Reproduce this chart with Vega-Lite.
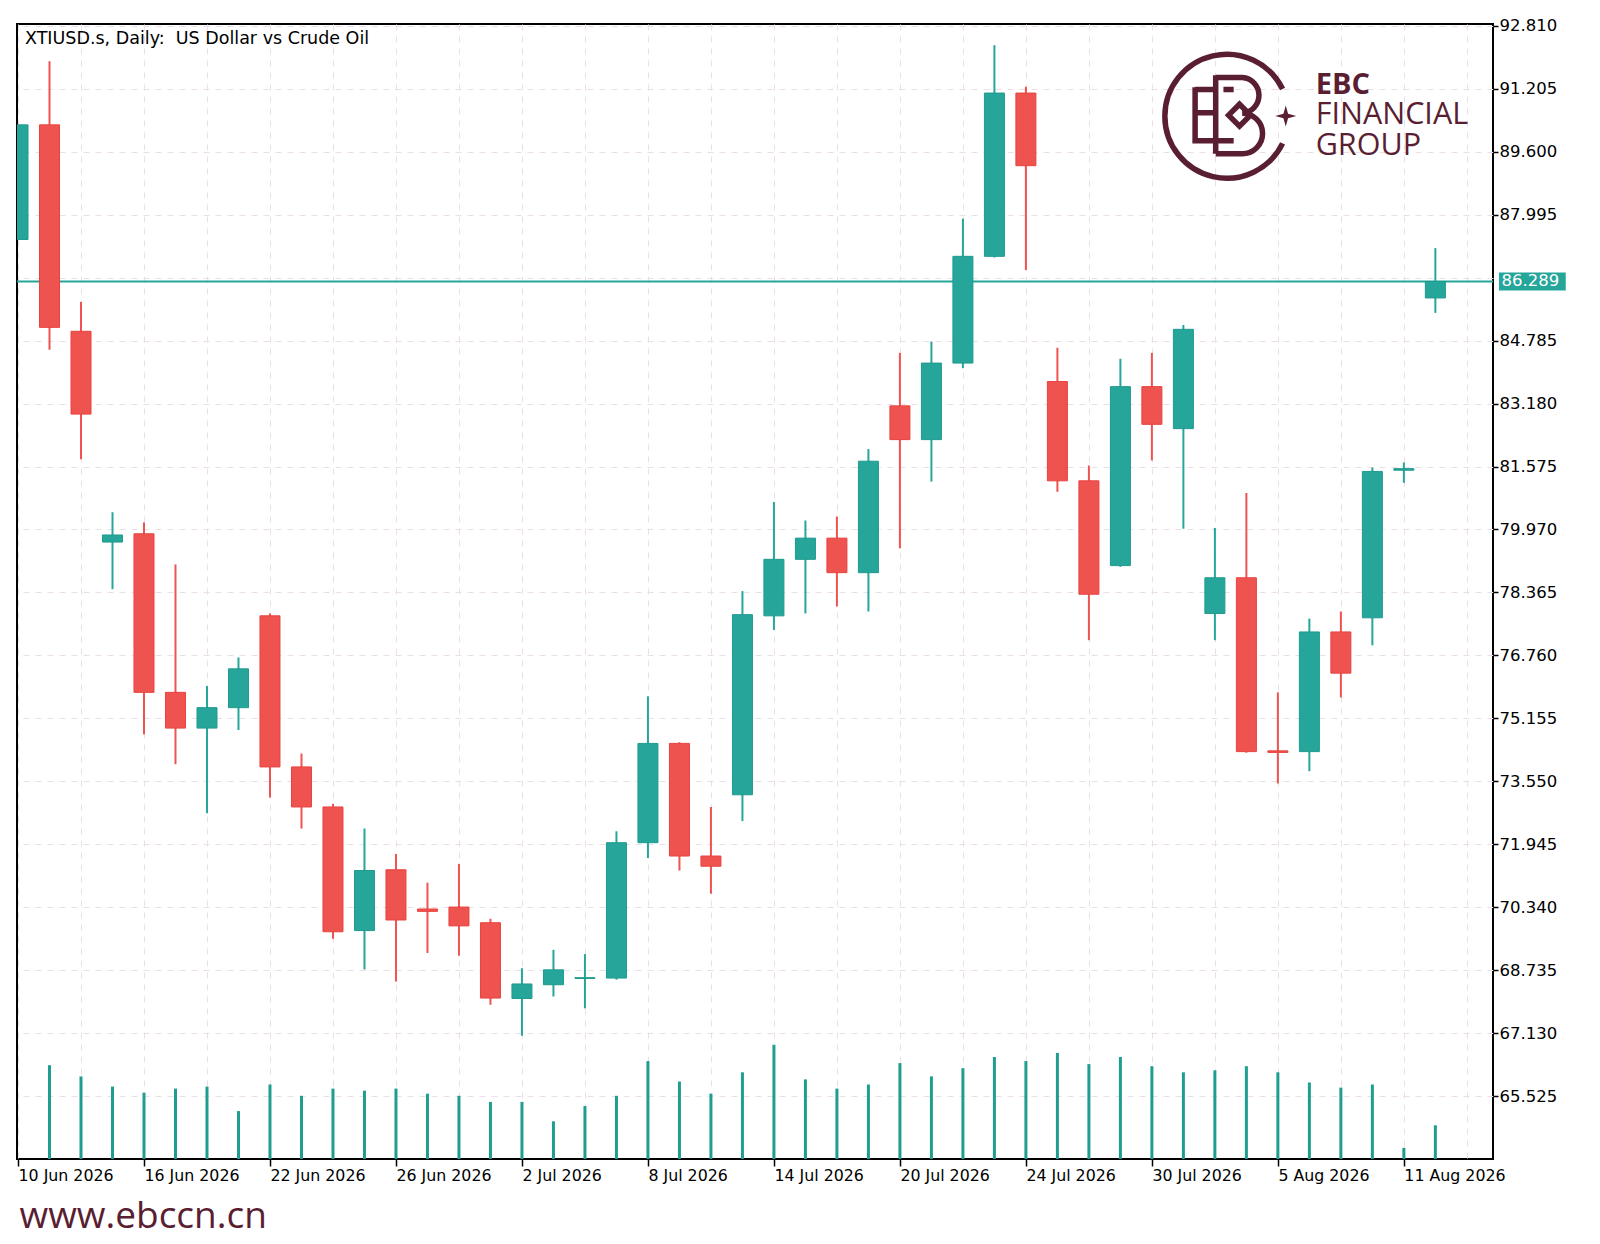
{
  "$schema": "https://vega.github.io/schema/vega-lite/v6.json",
  "width": 1476,
  "height": 1135,
  "autosize": {"type": "none"},
  "padding": {"left": 17, "top": 24, "right": 107, "bottom": 85},
  "background": "white",
  "title": {
    "text": "XTIUSD.s, Daily:\u00a0 US Dollar vs Crude Oil",
    "anchor": "start",
    "frame": "group",
    "orient": "top",
    "baseline": "top",
    "offset": -30,
    "dx": 8,
    "font": "DejaVu Sans",
    "fontSize": 17.5,
    "fontWeight": "normal",
    "color": "black"
  },
  "config": {"view": {"stroke": "black", "strokeWidth": 2}},
  "data": {
    "values": [
      {"i": 0, "d": "2026-06-10", "o": 87.36, "h": 90.28, "l": 87.36, "c": 90.28, "v": null},
      {"i": 1, "d": "2026-06-11", "o": 90.28, "h": 91.90, "l": 84.55, "c": 85.12, "v": 9380},
      {"i": 2, "d": "2026-06-12", "o": 85.02, "h": 85.77, "l": 81.76, "c": 82.91, "v": 8260},
      {"i": 3, "d": "2026-06-15", "o": 79.65, "h": 80.41, "l": 78.45, "c": 79.83, "v": 7240},
      {"i": 4, "d": "2026-06-16", "o": 79.86, "h": 80.15, "l": 74.75, "c": 75.82, "v": 6630},
      {"i": 5, "d": "2026-06-17", "o": 75.82, "h": 79.08, "l": 73.99, "c": 74.91, "v": 7040},
      {"i": 6, "d": "2026-06-18", "o": 74.91, "h": 75.98, "l": 72.74, "c": 75.43, "v": 7240},
      {"i": 7, "d": "2026-06-19", "o": 75.43, "h": 76.71, "l": 74.86, "c": 76.42, "v": 4790},
      {"i": 8, "d": "2026-06-22", "o": 77.77, "h": 77.83, "l": 73.14, "c": 73.92, "v": 7450},
      {"i": 9, "d": "2026-06-23", "o": 73.92, "h": 74.26, "l": 72.35, "c": 72.90, "v": 6320},
      {"i": 10, "d": "2026-06-24", "o": 72.90, "h": 72.98, "l": 69.54, "c": 69.72, "v": 7040},
      {"i": 11, "d": "2026-06-25", "o": 69.75, "h": 72.35, "l": 68.76, "c": 71.28, "v": 6830},
      {"i": 12, "d": "2026-06-26", "o": 71.30, "h": 71.70, "l": 68.45, "c": 70.02, "v": 7040},
      {"i": 13, "d": "2026-06-29", "o": 70.30, "h": 70.97, "l": 69.18, "c": 70.24, "v": 6530},
      {"i": 14, "d": "2026-06-30", "o": 70.35, "h": 71.45, "l": 69.11, "c": 69.87, "v": 6320},
      {"i": 15, "d": "2026-07-01", "o": 69.95, "h": 70.05, "l": 67.86, "c": 68.03, "v": 5710},
      {"i": 16, "d": "2026-07-02", "o": 68.02, "h": 68.79, "l": 67.07, "c": 68.39, "v": 5710},
      {"i": 17, "d": "2026-07-03", "o": 68.37, "h": 69.26, "l": 68.07, "c": 68.75, "v": 3770},
      {"i": 18, "d": "2026-07-06", "o": 68.53, "h": 69.15, "l": 67.77, "c": 68.55, "v": 5300},
      {"i": 19, "d": "2026-07-07", "o": 68.54, "h": 72.28, "l": 68.50, "c": 71.99, "v": 6320},
      {"i": 20, "d": "2026-07-08", "o": 71.99, "h": 75.72, "l": 71.60, "c": 74.52, "v": 9790},
      {"i": 21, "d": "2026-07-09", "o": 74.52, "h": 74.55, "l": 71.28, "c": 71.65, "v": 7750},
      {"i": 22, "d": "2026-07-10", "o": 71.65, "h": 72.90, "l": 70.69, "c": 71.39, "v": 6530},
      {"i": 23, "d": "2026-07-13", "o": 73.21, "h": 78.40, "l": 72.54, "c": 77.80, "v": 8670},
      {"i": 24, "d": "2026-07-14", "o": 77.77, "h": 80.67, "l": 77.41, "c": 79.21, "v": 11420},
      {"i": 25, "d": "2026-07-15", "o": 79.21, "h": 80.20, "l": 77.83, "c": 79.75, "v": 7960},
      {"i": 26, "d": "2026-07-16", "o": 79.75, "h": 80.30, "l": 78.01, "c": 78.87, "v": 7040},
      {"i": 27, "d": "2026-07-17", "o": 78.87, "h": 82.02, "l": 77.88, "c": 81.71, "v": 7450},
      {"i": 28, "d": "2026-07-20", "o": 83.12, "h": 84.47, "l": 79.49, "c": 82.26, "v": 9590},
      {"i": 29, "d": "2026-07-21", "o": 82.26, "h": 84.76, "l": 81.19, "c": 84.21, "v": 8260},
      {"i": 30, "d": "2026-07-22", "o": 84.21, "h": 87.89, "l": 84.08, "c": 86.93, "v": 9080},
      {"i": 31, "d": "2026-07-23", "o": 86.93, "h": 92.31, "l": 86.90, "c": 91.09, "v": 10200},
      {"i": 32, "d": "2026-07-24", "o": 91.09, "h": 91.25, "l": 86.58, "c": 89.24, "v": 9790},
      {"i": 33, "d": "2026-07-27", "o": 83.74, "h": 84.60, "l": 80.93, "c": 81.21, "v": 10610},
      {"i": 34, "d": "2026-07-28", "o": 81.21, "h": 81.60, "l": 77.15, "c": 78.32, "v": 9490},
      {"i": 35, "d": "2026-07-29", "o": 79.05, "h": 84.32, "l": 79.02, "c": 83.61, "v": 10200},
      {"i": 36, "d": "2026-07-30", "o": 83.61, "h": 84.47, "l": 81.73, "c": 82.65, "v": 9280},
      {"i": 37, "d": "2026-07-31", "o": 82.54, "h": 85.18, "l": 79.99, "c": 85.07, "v": 8670},
      {"i": 38, "d": "2026-08-03", "o": 77.83, "h": 80.01, "l": 77.15, "c": 78.74, "v": 8870},
      {"i": 39, "d": "2026-08-04", "o": 78.74, "h": 80.90, "l": 74.28, "c": 74.31, "v": 9280},
      {"i": 40, "d": "2026-08-05", "o": 74.33, "h": 75.82, "l": 73.50, "c": 74.29, "v": 8670},
      {"i": 41, "d": "2026-08-06", "o": 74.31, "h": 77.70, "l": 73.81, "c": 77.36, "v": 7650},
      {"i": 42, "d": "2026-08-07", "o": 77.36, "h": 77.88, "l": 75.69, "c": 76.31, "v": 7140},
      {"i": 43, "d": "2026-08-10", "o": 77.72, "h": 81.55, "l": 77.02, "c": 81.45, "v": 7450},
      {"i": 44, "d": "2026-08-11", "o": 81.48, "h": 81.68, "l": 81.16, "c": 81.52, "v": 1120},
      {"i": 45, "d": "2026-08-12", "o": 85.87, "h": 87.14, "l": 85.49, "c": 86.289, "v": 3370}
    ]
  },
  "layer": [
    {
      "layer": [
        {
          "data": {"values": [{}]},
          "mark": {"type": "rule", "color": "#26a69a", "strokeWidth": 2},
          "encoding": {
            "y": {"datum": 86.289, "type": "quantitative"}
          }
        },
        {
          "mark": {"type": "rule", "strokeWidth": 2, "clip": true},
          "encoding": {
            "x": {
              "field": "i",
              "type": "quantitative",
              "title": "www.ebccn.cn",
              "scale": {"domain": [-0.032, 46.83], "nice": false, "zero": false, "padding": 0},
              "axis": {
                "values": [0, 2, 4, 6, 8, 10, 12, 14, 16, 18, 20, 22, 24, 26, 28, 30, 32, 34, 36, 38, 40, 42, 44, 46],
                "labelExpr": "datum.value % 4 === 0 ? ['10 Jun 2026','16 Jun 2026','22 Jun 2026','26 Jun 2026','2 Jul 2026','8 Jul 2026','14 Jul 2026','20 Jul 2026','24 Jul 2026','30 Jul 2026','5 Aug 2026','11 Aug 2026'][datum.value / 4] : ''",
                "title": "www.ebccn.cn",
                "titleFont": "Open Sans",
                "titleFontSize": 37,
                "titleFontWeight": "normal",
                "titleColor": "#5a1e32",
                "titleAnchor": "start",
                "titleAlign": "left",
                "titleBaseline": "alphabetic",
                "titleX": 2,
                "titleY": 68,
                "domain": false,
                "tickSize": 7,
                "tickWidth": 1.5,
                "tickColor": "black",
                "tickOpacity": {"condition": {"test": "datum.value % 4 === 0", "value": 1}, "value": 0},
                "labelFont": "DejaVu Sans",
                "labelFontSize": 15.8,
                "labelColor": "black",
                "labelAlign": "left",
                "labelPadding": 2,
                "labelFlush": false,
                "labelOverlap": false,
                "labelBound": false,
                "grid": true,
                "gridColor": "#eadfe8",
                "gridDash": [6, 6],
                "gridWidth": 1
              }
            },
            "y": {
              "field": "l",
              "type": "quantitative",
              "title": null,
              "scale": {"domain": [63.93, 92.85], "nice": false, "zero": false},
              "axis": {
                "orient": "right",
                "title": null,
                "values": [65.525, 67.13, 68.735, 70.34, 71.945, 73.55, 75.155, 76.76, 78.365, 79.97, 81.575, 83.18, 84.785, 86.39, 87.995, 89.6, 91.205, 92.81],
                "labelExpr": "abs(datum.value - 86.39) < 0.001 ? '' : format(datum.value, '.3f')",
                "domain": false,
                "tickSize": 5,
                "tickWidth": 1.5,
                "tickColor": "black",
                "tickOpacity": {"condition": {"test": "abs(datum.value - 86.39) < 0.001", "value": 0}, "value": 1},
                "labelFont": "DejaVu Sans",
                "labelFontSize": 16.5,
                "labelColor": "black",
                "labelPadding": 1,
                "labelOverlap": false,
                "labelFlush": false,
                "labelBound": false,
                "grid": true,
                "gridColor": "#eadfe8",
                "gridDash": [6, 6],
                "gridWidth": 1
              }
            },
            "y2": {"field": "h"},
            "color": {"condition": {"test": "datum.c >= datum.o", "value": "#26a69a"}, "value": "#ef5350"}
          }
        },
        {
          "mark": {"type": "bar", "size": 20, "strokeWidth": 1, "clip": true},
          "encoding": {
            "x": {"field": "i", "type": "quantitative", "title": "www.ebccn.cn"},
            "y": {"field": "o", "type": "quantitative", "title": null},
            "y2": {"field": "c"},
            "fill": {"condition": {"test": "datum.c >= datum.o", "value": "#26a69a"}, "value": "#ef5350"},
            "stroke": {"condition": {"test": "datum.c >= datum.o", "value": "#1f9a8e"}, "value": "#e8423f"}
          }
        },
        {
          "data": {"values": [{}]},
          "mark": {"type": "rect", "color": "#26a69a"},
          "encoding": {
            "x": {"datum": 47.02, "type": "quantitative"},
            "x2": {"datum": 49.14},
            "y": {"datum": 86.519, "type": "quantitative"},
            "y2": {"datum": 86.059}
          }
        },
        {
          "data": {"values": [{}]},
          "mark": {"type": "text", "align": "left", "baseline": "middle", "color": "white", "font": "DejaVu Sans", "fontSize": 16.5},
          "encoding": {
            "x": {"datum": 47.1, "type": "quantitative"},
            "y": {"datum": 86.289, "type": "quantitative"},
            "text": {"value": "86.289"}
          }
        },
        {
          "data": {"values": [{}]},
          "mark": {
            "type": "point",
            "shape": "M0.899,-0.438A1,1,0,1,0,0.899,0.438M-0.512,-0.468L-0.512,0.441M-0.512,-0.43L-0.22,-0.43M-0.512,-0.055L-0.22,-0.055M-0.512,0.397L0.11,0.397M-0.055,-0.43L0.11,-0.43M-0.18,-0.661L-0.18,0.606M-0.18,-0.623L0.248,-0.623A0.287,0.287,0,0,1,0.248,-0.05A0.328,0.328,0,0,1,0.248,0.606L-0.18,0.606M0.028,-0.017L0.204,-0.193L0.38,-0.017L0.204,0.159Z",
            "size": 15376,
            "filled": false,
            "stroke": "#5a1e32",
            "strokeWidth": 5.5,
            "opacity": 1
          },
          "encoding": {
            "x": {"datum": 38.38, "type": "quantitative"},
            "y": {"datum": 90.5, "type": "quantitative"}
          }
        },
        {
          "data": {"values": [{}]},
          "mark": {
            "type": "point",
            "shape": "M0,-1L0.22,-0.22L1,0L0.22,0.22L0,1L-0.22,0.22L-1,0L-0.22,-0.22Z",
            "size": 441,
            "filled": true,
            "color": "#5a1e32",
            "opacity": 1
          },
          "encoding": {
            "x": {"datum": 40.25, "type": "quantitative"},
            "y": {"datum": 90.506, "type": "quantitative"}
          }
        },
        {
          "data": {"values": [{}]},
          "mark": {"type": "text", "align": "left", "baseline": "middle", "color": "#5a1e32", "font": "Open Sans", "fontSize": 29, "fontWeight": "bold"},
          "encoding": {
            "x": {"datum": 41.2, "type": "quantitative"},
            "y": {"datum": 91.283, "type": "quantitative"},
            "text": {"value": "EBC"}
          }
        },
        {
          "data": {"values": [{}]},
          "mark": {"type": "text", "align": "left", "baseline": "middle", "color": "#5a1e32", "font": "Open Sans", "fontSize": 30.5},
          "encoding": {
            "x": {"datum": 41.2, "type": "quantitative"},
            "y": {"datum": 90.531, "type": "quantitative"},
            "text": {"value": "FINANCIAL"}
          }
        },
        {
          "data": {"values": [{}]},
          "mark": {"type": "text", "align": "left", "baseline": "middle", "color": "#5a1e32", "font": "Open Sans", "fontSize": 30.5},
          "encoding": {
            "x": {"datum": 41.2, "type": "quantitative"},
            "y": {"datum": 89.742, "type": "quantitative"},
            "text": {"value": "GROUP"}
          }
        }
      ]
    },
    {
      "mark": {"type": "bar", "size": 3, "color": "#1f9d8f", "clip": true},
      "encoding": {
        "x": {"field": "i", "type": "quantitative", "title": "www.ebccn.cn"},
        "y": {"field": "v", "type": "quantitative", "scale": {"domain": [0, 113500]}, "axis": null}
      }
    }
  ],
  "resolve": {"scale": {"y": "independent"}}
}
